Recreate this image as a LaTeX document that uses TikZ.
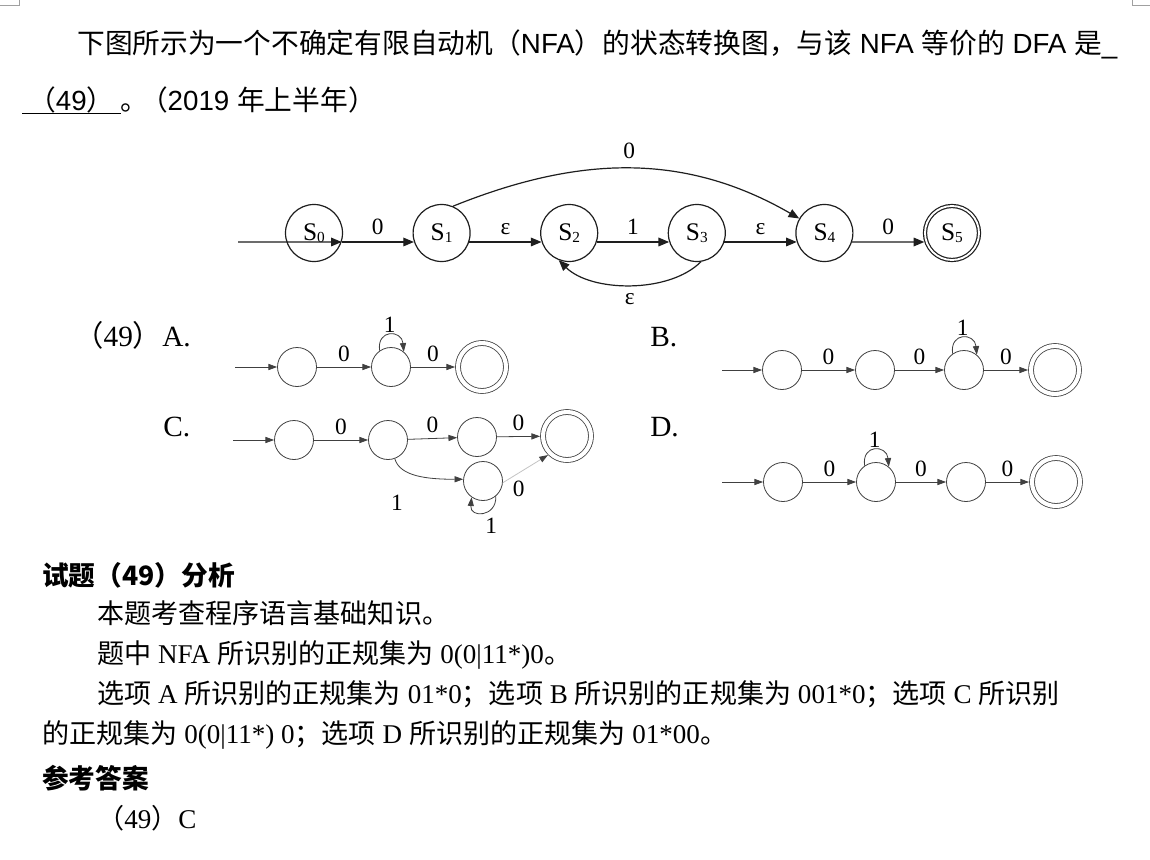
\documentclass[tikz,border=0pt]{standalone}
\usepackage{fontspec}
\setmainfont{Liberation Serif}
\newfontfamily\zh{Noto Sans CJK SC}
\newfontfamily\arial{Liberation Sans}
\usetikzlibrary{arrows.meta,positioning}
\definecolor{Ink}{HTML}{1E1E1E}
\definecolor{Stroke}{HTML}{404040}
\definecolor{Faint}{HTML}{C4C4C4}
\definecolor{Mark}{HTML}{A0A0A0}
\newcommand\stlabel[1]{S\raisebox{-1.2pt}{\fontsize{11.5}{12}\selectfont#1}}

\begin{document}
\begin{tikzpicture}[x=0.75pt,y=-0.75pt,every node/.style={inner sep=0pt},
  state/.style={circle,draw=Ink,line width=0.9pt,minimum size=42.75pt,font=\fontsize{19}{22}\selectfont},
  final/.style={state,double,double distance=1.4pt,minimum size=40.5pt,outer sep=1.6pt},
  move/.style={draw=Ink,line width=0.9pt,-{Triangle[length=8pt,width=6.5pt]}},
  dstate/.style={circle,draw=Stroke,line width=0.6pt,minimum size=29.25pt},
  dfinal/.style={dstate,double,double distance=3.1pt,minimum size=36pt,outer sep=2.2pt},
  dmove/.style={draw=Stroke,line width=0.6pt,-{Triangle[length=6.5pt,width=4.6pt]}},
  sym/.style={font=\fontsize{17.5}{19}\selectfont},
  toptxt/.style={anchor=base west,font=\arial\fontsize{20.8}{24}\selectfont},
  bodytxt/.style={anchor=base west,font=\fontsize{20.3}{24}\selectfont},
  headtxt/.style={anchor=base west,font=\zh\bfseries\fontsize{20}{24}\selectfont},
  opttxt/.style={anchor=base west,font=\fontsize{22}{24}\selectfont}]
  \fill[white] (0,0) rectangle (1150,860);
  \useasboundingbox (0,0) rectangle (1150,860);
  % page corner marks
  \draw[Mark,line width=0.6pt] (0,5) -- (19,5) -- (19,0);
  \draw[Mark,line width=0.6pt] (1150,5) -- (1132,5) -- (1132,0);

  % question
  \node[toptxt] (q1) at (77,53) {{\zh 下图所示为一个不确定有限自动机（}NFA{\zh ）的状态转换图，与该} NFA {\zh 等价的} DFA {\zh 是}\_};
  \node[toptxt,minimum width=73.5pt] (blank) at (22,110) {{\zh （}49{\zh ）}};
  \draw[line width=0.6pt] ([yshift=-2.5pt]blank.base west) -- ([yshift=-2.5pt]blank.base east);
  \node[toptxt] (q2) at (120,110) {{\zh 。}\hspace{-6pt}{\zh （}2019 {\zh 年上半年）}};

  % NFA
  \coordinate (start) at (238,242);
  \foreach \i in {0,...,4}
    \node[state] (S\i) at ({314+127.6*\i},233) {\stlabel{\i}};
  \node[final] (S5) at (952,233) {\stlabel{5}};
  \draw[move] (start) -- (S0.-18);
  \foreach \a/\b/\t in {0/1/0,1/2/ε,2/3/1,3/4/ε,4/5/0}
    \draw[move] (S\a.-18) -- node[sym,above=5pt]{\t} (S\b.198);
  \draw[move] (S1.67) .. controls +(124,-50) and +(-116,-67) .. (S4.150) node[sym,midway,above=7pt]{0};
  \draw[move] (S3.-82) .. controls +(-32,32) and +(32,32) .. (S2.-111) node[sym,midway,below=6pt]{ε};

  % options
  \node[opttxt] (la) at (74,346) {{\zh （}49{\zh ）}A.};
  \node[opttxt] (lb) at (650,346) {B.};
  \node[opttxt] (lc) at (163,436) {C.};
  \node[opttxt] (ld) at (650,436) {D.};

  \foreach \n/\x/\y in {A1/297/367,A2/391/367,B1/782/370,B2/875/370,B3/964/370,
      C1/294/440,C2/388/440,C3/477/437,C5/483/481,D1/783/482,D2/876/482,D3/966/482}
    \node[dstate] (\n) at (\x,\y) {};
  \foreach \n/\x/\y in {A3/482/367,B4/1055/370,C4/567/436,D4/1056/482}
    \node[dfinal] (\n) at (\x,\y) {};
  \coordinate (ain) at (235,367);
  \coordinate (bin) at (722,370);
  \coordinate (cin) at (233,440);
  \coordinate (din) at (722,482);
  \foreach \s/\a/\b in {ain/A1/A2,bin/B1/B2,cin/C1/C2,din/D1/D2}{
    \draw[dmove] (\s) -- (\a);
    \draw[dmove] (\a) -- node[sym,above=3.75pt]{0} (\b);
  }
  \foreach \a/\b in {A2/A3,B2/B3,B3/B4,C2/C3,C3/C4,D2/D3,D3/D4}
    \draw[dmove] (\a) -- node[sym,above=3.75pt]{0} (\b);
  % self loops
  \foreach \n in {A2,B3,D2}
    \draw[dmove] (\n.125) .. controls +(-3,-22) and +(-2,-22) .. (\n.50) node[sym,midway,above=1pt]{1};
  \draw[dmove] (C5.-50) .. controls +(1,21) and +(-2,21) .. (C5.-125) node[sym,midway,below=4pt,xshift=6pt]{1};
  \draw[dmove] (C2.-70) .. controls +(5,18) and +(-35,0) .. (C5.175);
  \node[sym] (c1) at (397,503) {1};
  \draw[dmove,draw=Faint,-{Triangle[length=6.5pt,width=4.6pt,color=Stroke]}] (C5.-5) -- node[sym,pos=.35,below=6pt]{0} (C4.-135);

  % analysis
  \node[headtxt] (h1) at (42,585) {试题（49）分析};
  \node[bodytxt] (p1) at (97,623) {{\zh 本题考查程序语言基础知识。}};
  \node[bodytxt] (p2) at (97,663) {{\zh 题中} NFA {\zh 所识别的正规集为} 0(0|11*)0{\zh 。}};
  \node[bodytxt] (p3) at (97,703) {{\zh 选项} A {\zh 所识别的正规集为} 01*0{\zh ；选项} B {\zh 所识别的正规集为} 001*0{\zh ；选项} C {\zh 所识别}};
  \node[bodytxt] (p4) at (42,743) {{\zh 的正规集为} 0(0|11*) 0{\zh ；选项} D {\zh 所识别的正规集为} 01*00{\zh 。}};
  \node[headtxt] (h2) at (42,788) {参考答案};
  \node[bodytxt] (p5) at (97,828) {{\zh （}49{\zh ）}C};
\end{tikzpicture}
\end{document}
